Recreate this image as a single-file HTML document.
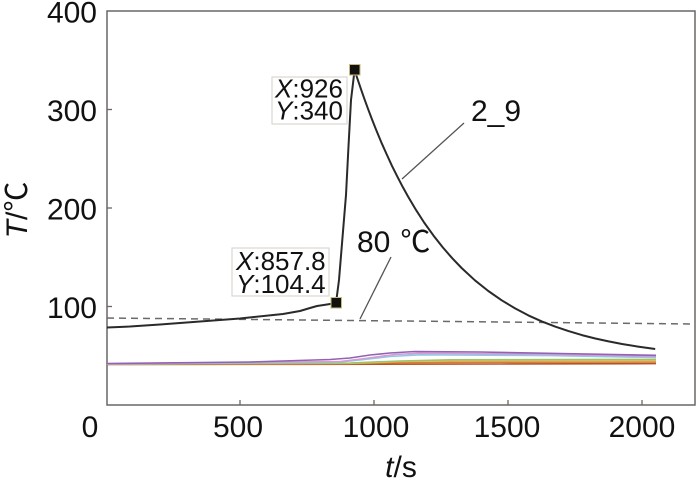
<!DOCTYPE html>
<html>
<head>
<meta charset="utf-8">
<style>
  html, body { margin: 0; padding: 0; background: #ffffff; }
  svg { display: block; }
  text { font-family: "Liberation Sans", "Noto Sans CJK SC", sans-serif; fill: #111; }
</style>
</head>
<body>
<svg width="700" height="483" viewBox="0 0 700 483" xmlns="http://www.w3.org/2000/svg">
  <rect x="0" y="0" width="700" height="483" fill="#fff"/>

  <!-- axes box -->
  <rect x="107" y="11" width="588" height="394" fill="none" stroke="#6b6663" stroke-width="1.5"/>

  <!-- ticks (inward) -->
  <g stroke="#6b6663" stroke-width="1.3">
    <line x1="240" y1="405" x2="240" y2="400"/>
    <line x1="374" y1="405" x2="374" y2="400"/>
    <line x1="508" y1="405" x2="508" y2="400"/>
    <line x1="642" y1="405" x2="642" y2="400"/>
    <line x1="107" y1="109.5" x2="112" y2="109.5"/>
    <line x1="107" y1="208" x2="112" y2="208"/>
    <line x1="107" y1="306.5" x2="112" y2="306.5"/>
  </g>

  <!-- y tick labels -->
  <g font-size="30" text-anchor="end">
    <text x="97" y="22.5">400</text>
    <text x="97" y="121">300</text>
    <text x="97" y="219.5">200</text>
    <text x="97" y="318">100</text>
  </g>
  <!-- x tick labels -->
  <g font-size="30" text-anchor="middle">
    <text x="90" y="437">0</text>
    <text x="238" y="437">500</text>
    <text x="376" y="437">1000</text>
    <text x="507" y="437">1500</text>
    <text x="642" y="437">2000</text>
  </g>

  <!-- axis labels -->
  <text x="401" y="477" font-size="30" text-anchor="middle"><tspan font-style="italic">t</tspan>/s</text>
  <text transform="translate(27,210) rotate(-90)" font-size="30" text-anchor="middle"><tspan font-style="italic">T</tspan>/℃</text>

  <!-- coloured low lines -->
  <g fill="none" stroke-width="1.6" stroke-linejoin="round">
    <polyline stroke="#b0562e" points="107,364.5 300,364.3 500,364 656,363.6"/>
    <polyline stroke="#e07a2c" points="107,364 350,363.5 400,362.6 500,362.2 656,362"/>
    <polyline stroke="#e3c25a" points="107,364 350,363.3 400,361.5 460,360.6 656,360.3"/>
    <polyline stroke="#9cc46c" points="107,364 350,363 400,361 450,359.8 656,359.4"/>
    <polyline stroke="#8ccbe6" points="107,364 340,362 360,360 390,356.5 420,354.8 550,355.6 656,357.5"/>
    <polyline stroke="#d79ad2" points="107,363.8 340,361.5 365,358.5 395,354.5 420,353.2 550,354.3 656,356.5"/>
    <polyline stroke="#9262b4" points="107,363.5 250,362 330,359.5 350,358 370,355 390,353 415,351.5 480,352 560,353.5 656,355.3"/>
  </g>

  <!-- dashed 80 C line -->
  <line x1="107" y1="318" x2="695" y2="324" stroke="#6a6a6a" stroke-width="1.5" stroke-dasharray="7 5"/>

  <!-- main black curve -->
  <polyline fill="none" stroke="#2a2a2a" stroke-width="2" stroke-linejoin="round"
    points="107,327.5 130,326.5 160,324.5 200,321.5 240,318.5 283,314 300,311 310,308 317,306 327,304.5 336,303
            339,280 346,195 348.3,150 351,100 354.6,70
            357.3,78.3 361.3,90.1 364,97.8 368,108.8 372,119.4 376,129.5 381.3,142.3 386.7,154.4 392,165.9
            397.4,176.7 402.7,186.9 408.1,196.6 416.1,210.1 424.1,222.5 433.5,235.6 442.9,247.5 452.2,258.2
            461.6,268 474.9,280.3 488.3,291 501.7,300.3 515.1,308.4 528.4,315.4 541.8,321.4 555.1,326.6
            568.5,331.1 581.9,335.1 595.3,338.5 608.6,341.4 622,344 638.1,346.6 655.2,349"/>

  <!-- pointer lines -->
  <g stroke="#555" stroke-width="1.3">
    <line x1="391" y1="257" x2="360" y2="319"/>
    <line x1="464" y1="123" x2="402" y2="179"/>
  </g>

  <!-- labels -->
  <text x="357" y="252" font-size="30">80<tspan dx="10">℃</tspan></text>
  <text x="471" y="121" font-size="30">2_9</text>

  <!-- data tip boxes -->
  <rect x="272" y="77" width="75" height="47" fill="#fff" stroke="#d6cfc4" stroke-width="1"/>
  <text x="275" y="97.5" font-size="26"><tspan font-style="italic">X</tspan>:926</text>
  <text x="275" y="119.5" font-size="26"><tspan font-style="italic">Y</tspan>:340</text>

  <rect x="232" y="248" width="97" height="48" fill="#fff" stroke="#d6cfc4" stroke-width="1"/>
  <text x="236" y="270" font-size="26"><tspan font-style="italic">X</tspan>:857.8</text>
  <text x="236" y="293" font-size="26"><tspan font-style="italic">Y</tspan>:104.4</text>

  <!-- markers -->
  <rect x="349.5" y="64.5" width="10.5" height="10.5" fill="#111" stroke="#c9b97c" stroke-width="1"/>
  <rect x="331" y="297.5" width="10.5" height="10.5" fill="#111" stroke="#c9b97c" stroke-width="1"/>
</svg>
</body>
</html>
